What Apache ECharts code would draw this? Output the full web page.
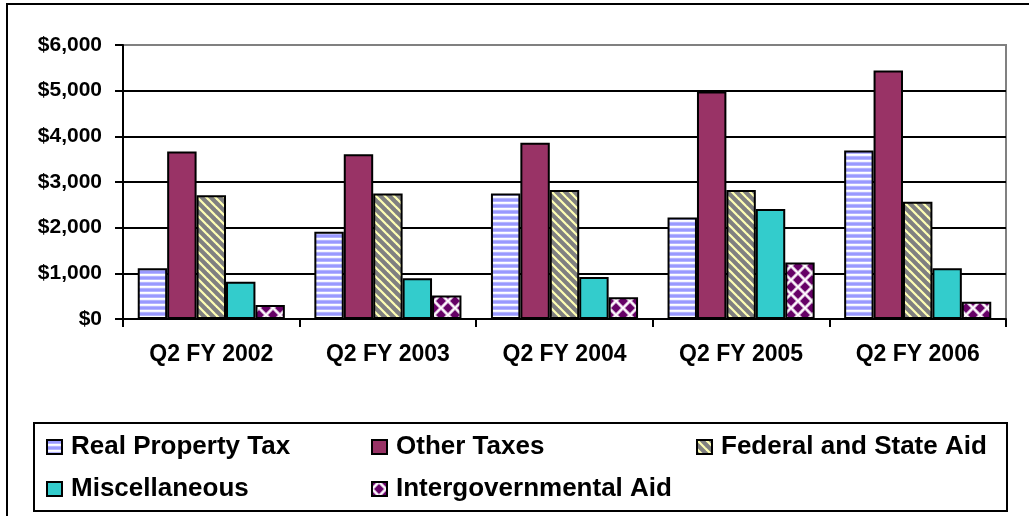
<!DOCTYPE html>
<html>
<head>
<meta charset="utf-8">
<title>Revenue by Source, Q2 FY 2002–2006</title>
<script src="https://cdn.jsdelivr.net/npm/echarts@6/dist/echarts.min.js"></script>
<style>
  html, body { margin: 0; padding: 0; background: #fff; }
  #chart { width: 1029px; height: 516px; }
</style>
</head>
<body>
<div id="chart"></div>
<script>
// Quarterly revenue by source ($ millions)
const categories = ['Q2 FY 2002', 'Q2 FY 2003', 'Q2 FY 2004', 'Q2 FY 2005', 'Q2 FY 2006'];
const seriesNames = ['Real Property Tax', 'Other Taxes', 'Federal and State Aid', 'Miscellaneous', 'Intergovernmental Aid'];
const realPropertyTax = [1110, 1910, 2750, 2220, 3690];
const otherTaxes = [3670, 3610, 3860, 4980, 5440];
const federalStateAid = [2710, 2750, 2825, 2825, 2570];
const miscellaneous = [815, 890, 920, 2410, 1110];
const intergovernmentalAid = [305, 515, 475, 1235, 380];
const yTicks = [0, 1000, 2000, 3000, 4000, 5000, 6000];

const FONT = '"Liberation Sans", Arial, Helvetica, sans-serif';

// Small repeating canvas tiles used as bar fills
function tile(w, h, draw) {
  const c = document.createElement('canvas');
  c.width = w; c.height = h;
  const ctx = c.getContext('2d');
  draw(ctx, w, h);
  return { image: c, repeat: 'repeat' };
}

// horizontal lavender stripes
const stripeFill = tile(6, 6, (ctx) => {
  const rows = ['#b4b4ff', '#9999ff', '#9999ff', '#b4b4ff', '#ffffff', '#f4f4ff'];
  rows.forEach((col, i) => { ctx.fillStyle = col; ctx.fillRect(0, i, 6, 1); });
});

// grey with pale yellow diagonal stripes
const diagonalFill = tile(9, 9, (ctx) => {
  ctx.fillStyle = '#808080';
  ctx.fillRect(0, 0, 9, 9);
  ctx.strokeStyle = '#ffffb4';
  ctx.lineWidth = 2.2;
  for (let k = -1; k <= 1; k++) {
    ctx.beginPath();
    ctx.moveTo(k * 9 - 2, -2);
    ctx.lineTo(k * 9 + 11, 11);
    ctx.stroke();
  }
});

// purple diamonds on white, each with a soft edge
const diamondFill = tile(14, 14, (ctx) => {
  ctx.fillStyle = '#ffffff';
  ctx.fillRect(0, 0, 14, 14);
  const centres = [[7, 7], [0, 0], [14, 0], [0, 14], [14, 14]];
  const diamond = (cx, cy, r) => {
    ctx.beginPath();
    ctx.moveTo(cx, cy - r);
    ctx.lineTo(cx + r, cy);
    ctx.lineTo(cx, cy + r);
    ctx.lineTo(cx - r, cy);
    ctx.closePath();
    ctx.fill();
  };
  ctx.fillStyle = '#cfa6cf';
  centres.forEach(([cx, cy]) => diamond(cx, cy, 5.9));
  ctx.fillStyle = '#660066';
  centres.forEach(([cx, cy]) => diamond(cx, cy, 4.7));
});

const fills = [stripeFill, '#993366', diagonalFill, '#33cccc', diamondFill];
const values = [realPropertyTax, otherTaxes, federalStateAid, miscellaneous, intergovernmentalAid];

function money(v) {
  return '$' + v.toLocaleString('en-US');
}

const legendCommon = {
  left: 46,
  orient: 'horizontal',
  padding: 0,
  icon: 'rect',
  itemWidth: 15,
  itemHeight: 14,
  itemGap: 7,
  selectedMode: false,
  textStyle: {
    fontFamily: FONT,
    fontWeight: 'bold',
    fontSize: 26,
    color: '#000',
    lineHeight: 30,
    width: 293,
    padding: [0, 0, 0, 4]
  }
};

const chart = echarts.init(document.getElementById('chart'), null, { renderer: 'canvas' });

chart.setOption({
  animation: false,
  backgroundColor: '#ffffff',
  grid: {
    left: 123, right: 23, top: 45, bottom: 197,
    show: true,
    borderColor: '#808080',
    borderWidth: 2,
    backgroundColor: 'transparent',
    outerBoundsMode: 'none'
  },
  xAxis: {
    type: 'category',
    data: categories,
    axisLine: { lineStyle: { color: '#000', width: 2 } },
    axisTick: { show: true, length: 8, alignWithLabel: false, lineStyle: { color: '#000', width: 2 } },
    axisLabel: {
      fontFamily: FONT, fontWeight: 'bold', fontSize: 23, color: '#000',
      margin: 24, interval: 0
    },
    splitLine: { show: false }
  },
  yAxis: {
    type: 'value',
    min: yTicks[0],
    max: yTicks[yTicks.length - 1],
    interval: yTicks[1] - yTicks[0],
    axisLine: { show: true, lineStyle: { color: '#000', width: 2 } },
    axisTick: { show: true, length: 8, lineStyle: { color: '#000', width: 2 } },
    axisLabel: {
      fontFamily: FONT, fontWeight: 'bold', fontSize: 21, color: '#000',
      margin: 21,
      formatter: money
    },
    splitLine: {
      show: true,
      lineStyle: { color: ['#000', '#000', '#000', '#000', '#000', '#000', '#808080'], width: 2 }
    }
  },
  legend: [
    Object.assign({}, legendCommon, { top: 432, data: seriesNames.slice(0, 3) }),
    Object.assign({}, legendCommon, { top: 474, data: seriesNames.slice(3) })
  ],
  graphic: [
    {
      type: 'rect', z: -1, silent: true,
      shape: { x: 7, y: 4, width: 1100, height: 600 },
      style: { fill: null, stroke: '#000', lineWidth: 2 }
    },
    {
      type: 'rect', z: -1, silent: true,
      shape: { x: 34, y: 423, width: 973, height: 88 },
      style: { fill: null, stroke: '#000', lineWidth: 2 }
    }
  ],
  series: seriesNames.map((name, i) => ({
    name: name,
    type: 'bar',
    data: values[i],
    barGap: '0%',
    barCategoryGap: '16.7%',
    itemStyle: { color: fills[i], borderColor: '#000', borderWidth: 2 },
    emphasis: { disabled: true }
  }))
});
</script>
</body>
</html>
